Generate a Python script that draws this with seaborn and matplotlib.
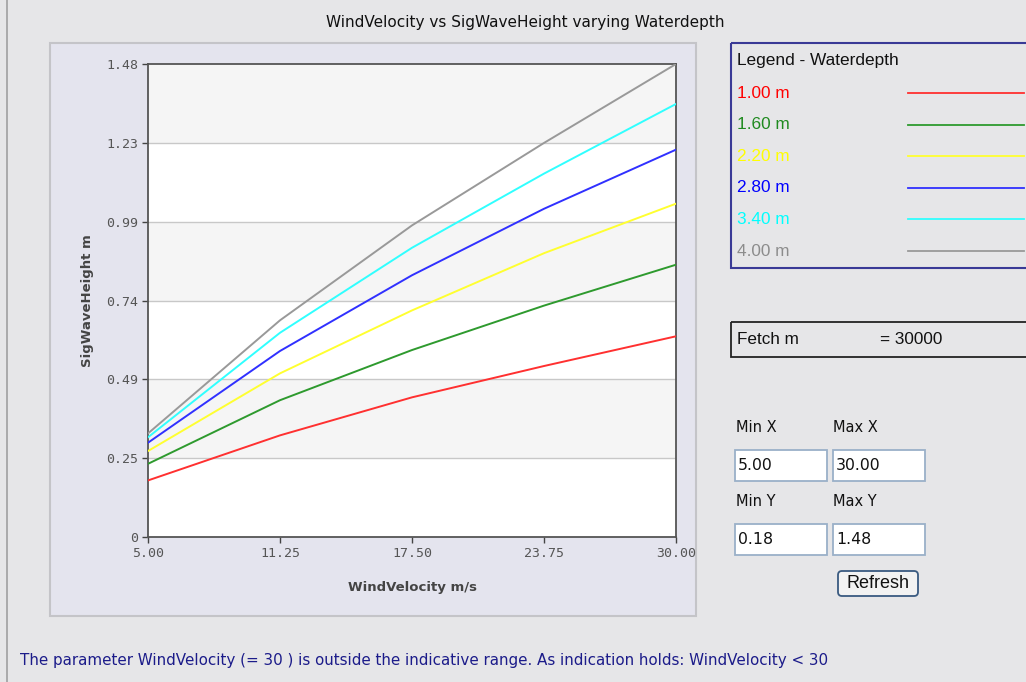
import numpy as np
import pandas as pd
import matplotlib
matplotlib.use("Agg")
import matplotlib.pyplot as plt
from matplotlib.patches import Rectangle, FancyBboxPatch
import seaborn as sns

# data
wind_velocity = [5.00, 11.25, 17.50, 23.75, 30.00]
depth_labels = ["1.00 m", "1.60 m", "2.20 m", "2.80 m", "3.40 m", "4.00 m"]
h_100 = [0.177, 0.318, 0.437, 0.535, 0.628]
h_160 = [0.229, 0.428, 0.585, 0.724, 0.852]
h_220 = [0.269, 0.512, 0.709, 0.888, 1.043]
h_280 = [0.295, 0.582, 0.819, 1.027, 1.212]
h_340 = [0.312, 0.639, 0.905, 1.137, 1.355]
h_400 = [0.324, 0.678, 0.975, 1.233, 1.480]
x_ticks = [5.00, 11.25, 17.50, 23.75, 30.00]
y_max = 1.48
y_tick_labels = ["0", "0.25", "0.49", "0.74", "0.99", "1.23", "1.48"]

line_colors = ["#ff3030", "#2e9a2e", "#ffff30", "#3030ff", "#30ffff", "#999999"]
text_colors = ["#ff0000", "#1f8a1f", "#ffff00", "#0000ff", "#00ffff", "#8c8c8c"]

series = [h_100, h_160, h_220, h_280, h_340, h_400]
df = pd.DataFrame({
    "WindVelocity": np.tile(wind_velocity, len(series)),
    "SigWaveHeight": np.concatenate(series),
    "Waterdepth": np.repeat(depth_labels, len(wind_velocity)),
})

W, H = 1026, 682
BG = "#e6e6e8"
fig = plt.figure(figsize=(W / 100, H / 100), dpi=100, facecolor=BG)

# overlay in pixel coords for the surrounding panel widgets
ov = fig.add_axes([0, 0, 1, 1], zorder=0)
ov.set_xlim(0, W)
ov.set_ylim(H, 0)
ov.axis("off")
ov.plot([7, 7], [0, H], color="#a0a0a0", lw=1.2)
ov.add_patch(Rectangle((50, 43), 646, 573, facecolor="#e4e4ee",
                       edgecolor="#c4c4c8", lw=1.5))

plain = "DejaVu Sans"
lib = "Liberation Sans"
ov.text(525, 22, "WindVelocity vs SigWaveHeight varying Waterdepth",
        ha="center", va="center", fontsize=11, family=plain, color="#111111")

# legend box
ov.add_patch(Rectangle((731, 43), 300, 225, facecolor="none",
                       edgecolor="#3a3a96", lw=1.5))
ov.text(737, 61, "Legend - Waterdepth", ha="left", va="center",
        fontsize=12.4, family=lib, color="#111111")
for i, (lab, tc, lc) in enumerate(zip(depth_labels, text_colors, line_colors)):
    yy = 93 + i * 31.6
    ov.text(737, yy, lab, ha="left", va="center", fontsize=12.4,
            family=lib, color=tc)
    ov.plot([908, 1024], [yy, yy], color=lc, lw=1.3)

# fetch box
ov.add_patch(Rectangle((731, 322), 300, 35, facecolor="none",
                       edgecolor="#222222", lw=1.3))
ov.text(737, 340, "Fetch m", ha="left", va="center", fontsize=12.3,
        family=lib, color="#111111")
ov.text(880, 340, "= 30000", ha="left", va="center", fontsize=12.3,
        family=lib, color="#111111")

# range inputs
for lx, ly, txt in [(736, 428, "Min X"), (833, 428, "Max X"),
                    (736, 502, "Min Y"), (833, 502, "Max Y")]:
    ov.text(lx, ly, txt, ha="left", va="center", fontsize=10.5,
            family=plain, color="#111111")
for bx, by, txt in [(735, 450, "5.00"), (833, 450, "30.00"),
                    (735, 524, "0.18"), (833, 524, "1.48")]:
    ov.add_patch(Rectangle((bx, by), 92, 31, facecolor="white",
                           edgecolor="#9ab0c8", lw=1.3))
    ov.text(bx + 3, by + 16, txt, ha="left", va="center", fontsize=11.3,
            family=plain, color="#111111")
ov.add_patch(FancyBboxPatch((838, 571), 80, 25, boxstyle="round,pad=0,rounding_size=4",
                            facecolor="#f2f2f2", edgecolor="#3a5a80", lw=1.3))
ov.text(878, 584, "Refresh", ha="center", va="center", fontsize=13,
        family=lib, color="#111111")

ov.text(20, 661, "The parameter WindVelocity (= 30 ) is outside the indicative range. "
        "As indication holds: WindVelocity < 30", ha="left", va="center",
        fontsize=10.9, family=plain, color="#1c1c8a")

# main chart
ax = fig.add_axes([148 / W, 1 - 537 / H, 528 / W, 473 / H], zorder=2)
ax.set_facecolor("white")
y_ticks = np.linspace(0, y_max, len(y_tick_labels))
for k in range(len(y_ticks) - 1):
    if k % 2 == 1:
        ax.axhspan(y_ticks[k], y_ticks[k + 1], color="#f5f5f5", zorder=0, lw=0)
for t in y_ticks[1:-1]:
    ax.axhline(t, color="#c8c8c8", lw=1.0, zorder=1)

sns.lineplot(data=df, x="WindVelocity", y="SigWaveHeight", hue="Waterdepth",
             palette=dict(zip(depth_labels, line_colors)), linewidth=1.4,
             legend=False, ax=ax, zorder=3)

ax.set_xlim(wind_velocity[0], wind_velocity[-1])
ax.set_ylim(0, y_max)
ax.set_xticks(x_ticks)
ax.set_xticklabels([f"{v:.2f}" for v in x_ticks])
ax.set_yticks(y_ticks)
ax.set_yticklabels(y_tick_labels)
ax.tick_params(length=4, width=1, color="#444444", labelsize=9.5,
               labelcolor="#555555", pad=3)
for lab in ax.get_xticklabels() + ax.get_yticklabels():
    lab.set_family("DejaVu Sans Mono")
for sp in ax.spines.values():
    sp.set_color("#555555")
    sp.set_linewidth(1.3)
ax.set_xlabel("WindVelocity m/s", fontsize=9.5, fontweight="bold",
              color="#444444", labelpad=15)
ax.set_ylabel("SigWaveHeight m", fontsize=9.5, fontweight="bold",
              color="#444444", labelpad=9)

fig.savefig("out.png", dpi=100, facecolor=BG)
